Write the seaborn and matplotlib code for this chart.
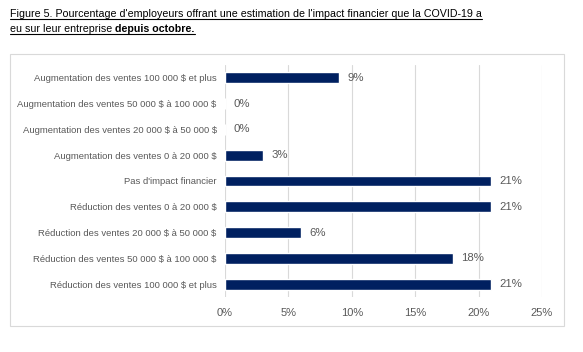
import matplotlib
matplotlib.use('Agg')
import matplotlib.pyplot as plt
import seaborn as sns
import pandas as pd
from matplotlib.patches import Rectangle
from matplotlib.lines import Line2D
from matplotlib import font_manager

categories = [
    'Augmentation des ventes 100 000 $ et plus',
    'Augmentation des ventes 50 000 $ à 100 000 $',
    'Augmentation des ventes 20 000 $ à 50 000 $',
    'Augmentation des ventes 0 à 20 000 $',
    "Pas d'impact financier",
    'Réduction des ventes 0 à 20 000 $',
    'Réduction des ventes 20 000 $ à 50 000 $',
    'Réduction des ventes 50 000 $ à 100 000 $',
    'Réduction des ventes 100 000 $ et plus',
]
values = [9, 0, 0, 3, 21, 21, 6, 18, 21]
xticks = [0, 5, 10, 15, 20, 25]

df = pd.DataFrame({'cat': categories, 'val': values})

sns.set_style('white')
plt.rcParams['font.family'] = ['Liberation Sans', 'DejaVu Sans']
plt.rcParams['text.parse_math'] = False
grey = '#595959'
navy = '#002060'

# title font: narrow if available
names = {f.name for f in font_manager.fontManager.ttflist}
if 'Liberation Sans Narrow' in names:
    title_family, fs = 'Liberation Sans Narrow', 9.2
else:
    title_family, fs = 'Liberation Sans', 7.7

fig = plt.figure(figsize=(5.83, 3.52), dpi=100)
ax = fig.add_axes([225 / 583, 1 - 297 / 352, 317 / 583, 232 / 352])

sns.barplot(data=df, x='val', y='cat', color=navy, width=0.42, ax=ax,
            saturation=1, orient='h')

ax.set_xlim(0, 25)
ax.set_ylim(8.5, -0.5)
ax.set_xticks(xticks)
ax.set_xticklabels([f'{t}%' for t in xticks], color=grey, fontsize=8)
ax.tick_params(axis='y', labelsize=6.8, labelcolor=grey, length=0, pad=6)
ax.tick_params(axis='x', length=0, pad=8)
ax.set_xlabel('')
ax.set_ylabel('')
ax.grid(axis='x', color='#d9d9d9', linewidth=0.8)
ax.set_axisbelow(True)
for s in ax.spines.values():
    s.set_visible(False)

for i, v in enumerate(values):
    ax.text(v + 0.65, i, f'{v}%', va='center', ha='left', fontsize=8.2, color=grey)

# chart border
fig.patches.append(Rectangle((10 / 583, 1 - 326 / 352), 554 / 583, 272 / 352,
                             transform=fig.transFigure, fill=False,
                             edgecolor='#d9d9d9', linewidth=0.8))

# title with underline
fig.canvas.draw()
r = fig.canvas.get_renderer()
x0 = 10 / 583
t1 = fig.text(x0, 1 - 17 / 352, "Figure 5. Pourcentage d'employeurs offrant une estimation de l'impact financier que la COVID-19 a",
              fontsize=fs, family=title_family, color='black', va='baseline')
t2 = fig.text(x0, 1 - 32 / 352, 'eu sur leur entreprise ', fontsize=fs, family=title_family,
              color='black', va='baseline')
bb2 = t2.get_window_extent(r)
t3 = fig.text(bb2.x1 / fig.bbox.width, 1 - 32 / 352, 'depuis octobre.', fontsize=fs,
              family=title_family, fontweight='bold', color='black', va='baseline')
for t, y in [(t1, 17), (t2, 32), (t3, 32)]:
    bb = t.get_window_extent(r)
    yy = 1 - (y + 2) / 352
    fig.lines.append(Line2D([bb.x0 / fig.bbox.width, bb.x1 / fig.bbox.width], [yy, yy],
                            transform=fig.transFigure, color='black', linewidth=0.8))

fig.savefig('out.png', dpi=100)
